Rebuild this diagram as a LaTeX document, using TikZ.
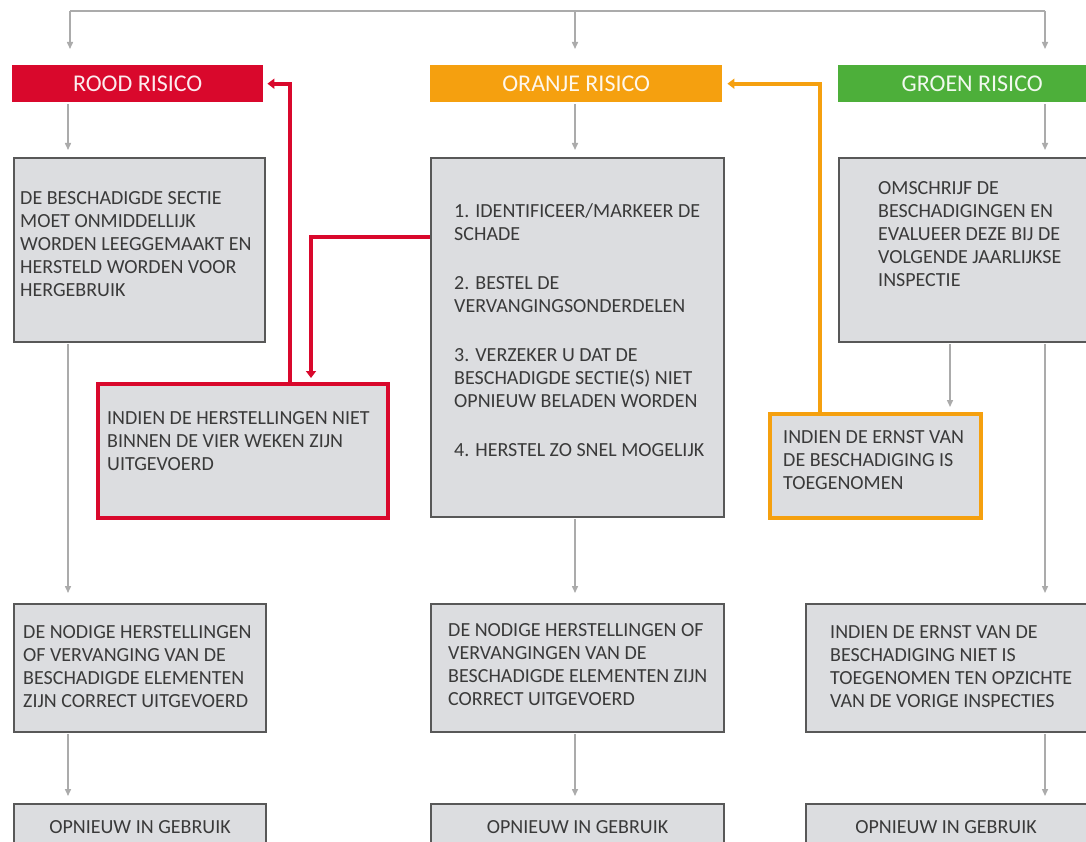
\documentclass[tikz,border=0pt]{standalone}
\usepackage{fontspec}
\setmainfont{Carlito}
\usetikzlibrary{arrows.meta,calc}
\definecolor{rood}{HTML}{D9082C}
\definecolor{oranje}{HTML}{F5A00F}
\definecolor{groen}{HTML}{4DAF3A}
\definecolor{boxfill}{HTML}{DCDDE0}
\definecolor{boxline}{HTML}{585858}
\definecolor{txtc}{HTML}{3A3A3A}
\definecolor{conn}{HTML}{ABABAB}
\begin{document}
\begin{tikzpicture}[x=1pt,y=-1pt,
  hdr/.style={fill=#1, draw=none, text=white!92!#1, font=\fontsize{24}{28}\selectfont, anchor=north west, inner sep=0pt, minimum height=37pt},
  gbox/.style={fill=boxfill, draw=boxline, line width=2pt, anchor=north west, inner sep=0pt},
  cbox/.style={fill=boxfill, draw=#1, line width=4pt, anchor=north west, inner sep=0pt},
  txt/.style={text=txtc, font=\fontsize{20}{23}\selectfont, align=left, anchor=north west, inner sep=0pt},
  gline/.style={draw=conn, line width=1.5pt},
  garrow/.style={draw=conn, line width=1.5pt, -{Triangle[width=6pt,length=7pt]}},
  carrow/.style={draw=#1, line width=4pt, -{Triangle[width=10pt,length=7pt]}},
]
\useasboundingbox (0,0) rectangle (1086,842);
\clip (0,0) rectangle (1086,842);
\fill[white] (0,0) rectangle (1086,842);

% header boxes
\node[hdr=rood, minimum width=251pt] (hRood) at (12,65) {ROOD RISICO};
\node[hdr=oranje, minimum width=292pt] (hOranje) at (430,65) {ORANJE RISICO};
\node[hdr=groen, minimum width=268pt] (hGroen) at (838,65) {GROEN RISICO};

% main boxes
\node[gbox, minimum width=251pt, minimum height=184pt] (lmain) at (13,157) {};
\node[gbox, minimum width=293pt, minimum height=359pt] (cmain) at (430,157) {};
\node[gbox, minimum width=270pt, minimum height=184pt] (rmain) at (838,157) {};
\node[cbox=rood, minimum width=290pt, minimum height=134pt] (redbox) at (96,382) {};
\node[cbox=oranje, minimum width=211pt, minimum height=104pt] (orbox) at (768,412) {};
\node[gbox, minimum width=252pt, minimum height=128pt] (lbot) at (13,603) {};
\node[gbox, minimum width=293pt, minimum height=128pt] (cbot) at (430,603) {};
\node[gbox, minimum width=290pt, minimum height=128pt] (rbot) at (805,603) {};
\node[gbox, minimum width=252pt, minimum height=80pt] (lend) at (13,803) {};
\node[gbox, minimum width=293pt, minimum height=80pt] (cend) at (430,803) {};
\node[gbox, minimum width=290pt, minimum height=80pt] (rend) at (805,803) {};

% texts
\node[txt] (tlmain) at ($(lmain.north west)+(7,34.5)$) {DE BESCHADIGDE SECTIE\\MOET ONMIDDELLIJK\\WORDEN LEEGGEMAAKT EN\\HERSTELD WORDEN VOOR\\HERGEBRUIK};
\node[txt] (tcmain) at ($(cmain.north west)+(24,46.5)$) {1. IDENTIFICEER/MARKEER DE\\SCHADE\\[26pt]2. BESTEL DE\\VERVANGINGSONDERDELEN\\[26pt]3. VERZEKER U DAT DE\\BESCHADIGDE SECTIE(S) NIET\\OPNIEUW BELADEN WORDEN\\[26pt]4. HERSTEL ZO SNEL MOGELIJK};
\node[txt] (trmain) at ($(rmain.north west)+(40,24.5)$) {OMSCHRIJF DE\\BESCHADIGINGEN EN\\EVALUEER DEZE BIJ DE\\VOLGENDE JAARLIJKSE\\INSPECTIE};
\node[txt] (tred) at ($(redbox.north west)+(11,29.5)$) {INDIEN DE HERSTELLINGEN NIET\\BINNEN DE VIER WEKEN ZIJN\\UITGEVOERD};
\node[txt] (tor) at ($(orbox.north west)+(15,18.5)$) {INDIEN DE ERNST VAN\\DE BESCHADIGING IS\\TOEGENOMEN};
\node[txt] (tlbot) at ($(lbot.north west)+(10,22.5)$) {DE NODIGE HERSTELLINGEN\\OF VERVANGING VAN DE\\BESCHADIGDE ELEMENTEN\\ZIJN CORRECT UITGEVOERD};
\node[txt] (tcbot) at ($(cbot.north west)+(18,20.5)$) {DE NODIGE HERSTELLINGEN OF\\VERVANGINGEN VAN DE\\BESCHADIGDE ELEMENTEN ZIJN\\CORRECT UITGEVOERD};
\node[txt] (trbot) at ($(rbot.north west)+(25,22.5)$) {INDIEN DE ERNST VAN DE\\BESCHADIGING NIET IS\\TOEGENOMEN TEN OPZICHTE\\VAN DE VORIGE INSPECTIES};
\node[txt, anchor=center] (tlend) at ($(lend.north)+(0,24)$) {OPNIEUW IN GEBRUIK};
\node[txt, anchor=center] (tcend) at ($(cend.north)+(0,24)$) {OPNIEUW IN GEBRUIK};
\node[txt, anchor=center] (trend) at ($(rend.north)+(-5,24)$) {OPNIEUW IN GEBRUIK};

% coordinates for connector columns
\coordinate (topL) at (70,11);
\coordinate (topR) at (1045,11);
\coordinate (xl) at (68,0);
\coordinate (xc) at (575,0);
\coordinate (xr) at (1045,0);
\coordinate (xg) at (950,0);
\coordinate (xred) at (290,0);
\coordinate (rc) at (311,237);
\coordinate (xor) at (820,0);

% top distribution
\draw[gline] (topL) -- (topR);
\draw[garrow, shorten >=16pt] (topL) -- (hRood.north -| topL);
\draw[garrow, shorten >=16pt] (topL -| xc) -- (hOranje.north -| xc);
\draw[garrow, shorten >=16pt] (topR) -- (hGroen.north -| topR);

% header to main
\draw[garrow, shorten <=2pt, shorten >=7pt] (hRood.south -| xl) -- (lmain.north -| xl);
\draw[garrow, shorten <=2pt, shorten >=7pt] (hOranje.south -| xc) -- (cmain.north -| xc);
\draw[garrow, shorten <=2pt, shorten >=7pt] (hGroen.south -| xr) -- (rmain.north -| xr);

% main to bottom
\draw[garrow, shorten <=1pt, shorten >=10pt] (lmain.south -| xl) -- (lbot.north -| xl);
\draw[garrow, shorten <=1pt, shorten >=10pt] (cmain.south -| xc) -- (cbot.north -| xc);
\draw[garrow, shorten <=1pt, shorten >=10pt] (rmain.south -| xr) -- (rbot.north -| xr);
\draw[garrow, shorten <=1pt, shorten >=5pt] (rmain.south -| xg) -- (orbox.north -| xg);

% bottom to end
\draw[garrow, shorten <=1pt, shorten >=7pt] (lbot.south -| xl) -- (lend.north -| xl);
\draw[garrow, shorten <=1pt, shorten >=7pt] (cbot.south -| xc) -- (cend.north -| xc);
\draw[garrow, shorten <=1pt, shorten >=7pt] (rbot.south -| xr) -- (rend.north -| xr);

% coloured feedback connectors
\draw[carrow=rood, shorten >=4pt] (redbox.north -| xred) |- (hRood.east);
\draw[carrow=rood, shorten >=4pt] (cmain.west |- rc) -| (redbox.north -| rc);
\draw[carrow=oranje, shorten >=5pt] (orbox.north -| xor) |- (hOranje.east);
\end{tikzpicture}
\end{document}
